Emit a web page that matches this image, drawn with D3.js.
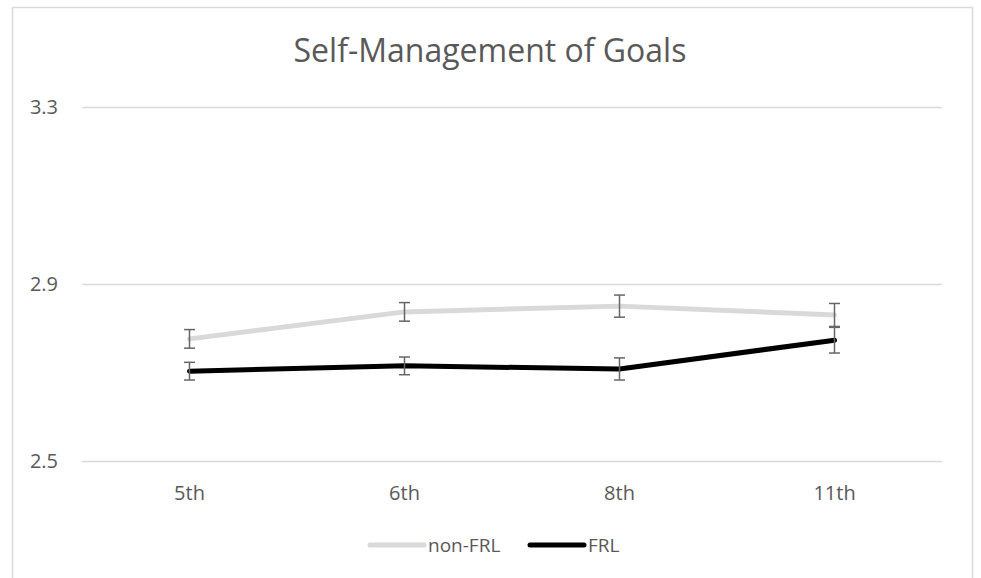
<!DOCTYPE html>
<html><head><meta charset="utf-8">
<script src="https://cdn.jsdelivr.net/npm/d3@7"></script>
<style>body{margin:0;background:#fff;}svg{display:block;}</style>
</head><body><svg id="c" width="981" height="578"></svg>
<script>
const title = "Self-Management of Goals";
const categories = ["5th","6th","8th","11th"];
const seriesNames = ["non-FRL","FRL"];
const nonFRL = [2.776, 2.837, 2.850, 2.830];
const nonFRLErr = [0.021, 0.021, 0.025, 0.026];
const FRL = [2.703, 2.715, 2.708, 2.773];
const FRLErr = [0.020, 0.020, 0.025, 0.029];
const yTicks = [2.5, 2.9, 3.3];

const svg = d3.select("#c");
const font = "'Open Sans', 'Noto Sans', sans-serif";
const textColor = "#595959";

svg.append("rect").attr("x",12.5).attr("y",7.5).attr("width",960).attr("height",580)
  .attr("fill","#fff").attr("stroke","#d9d9d9").attr("stroke-width",1.5);

const x = d3.scaleBand().domain(categories).range([82,942]);
const y = d3.scaleLinear().domain([2.5,3.3]).range([461,107]);

svg.append("text").attr("x",490).attr("y",62).attr("text-anchor","middle")
  .attr("font-family",font).attr("font-size",32).attr("fill",textColor).text(title);

const yAxis = svg.append("g").attr("transform","translate(82,0)")
  .call(d3.axisLeft(y).tickValues(yTicks).tickSize(-860).tickFormat(d3.format(".1f")).tickPadding(24));
yAxis.select(".domain").remove();
yAxis.selectAll("line").attr("stroke","#d9d9d9").attr("stroke-width",1.5);
yAxis.selectAll("text").attr("font-family",font).attr("font-size",20).attr("fill",textColor);

const xAxis = svg.append("g").attr("transform","translate(0,461)")
  .call(d3.axisBottom(x).tickSize(0).tickPadding(25));
xAxis.select(".domain").remove();
xAxis.selectAll("text").attr("font-family",font).attr("font-size",20).attr("fill",textColor);

const series = [
  {name:seriesNames[0], vals:nonFRL, err:nonFRLErr, color:"#d9d9d9"},
  {name:seriesNames[1], vals:FRL, err:FRLErr, color:"#000000"}
];
const cx = c => x(c) + x.bandwidth()/2;
const line = d3.line().x((d,i)=>cx(categories[i])).y(d=>y(d));

series.forEach(s=>{
  svg.append("path").datum(s.vals).attr("d",line).attr("fill","none")
    .attr("stroke",s.color).attr("stroke-width",5).attr("stroke-linecap","round").attr("stroke-linejoin","round");
});
series.forEach(s=>{
  const g = svg.append("g").attr("stroke","#666666").attr("stroke-width",1.5).attr("fill","none");
  s.vals.forEach((v,i)=>{
    const px = cx(categories[i]);
    const t = y(v + s.err[i]), b = y(v - s.err[i]);
    g.append("line").attr("x1",px).attr("x2",px).attr("y1",t).attr("y2",b);
    g.append("line").attr("x1",px-5.5).attr("x2",px+5.5).attr("y1",t).attr("y2",t);
    g.append("line").attr("x1",px-5.5).attr("x2",px+5.5).attr("y1",b).attr("y2",b);
  });
});

// legend
const legX = [370, 530];
series.forEach((s,i)=>{
  const lg = svg.append("g").attr("transform",`translate(${legX[i]},545)`);
  lg.append("line").attr("x1",0).attr("x2",54).attr("y1",0).attr("y2",0)
    .attr("stroke",s.color).attr("stroke-width",5).attr("stroke-linecap","round");
  lg.append("text").attr("x",58).attr("y",0).attr("dy","0.35em")
    .attr("font-family",font).attr("font-size",19).attr("fill",textColor).text(s.name);
});
</script></body></html>
